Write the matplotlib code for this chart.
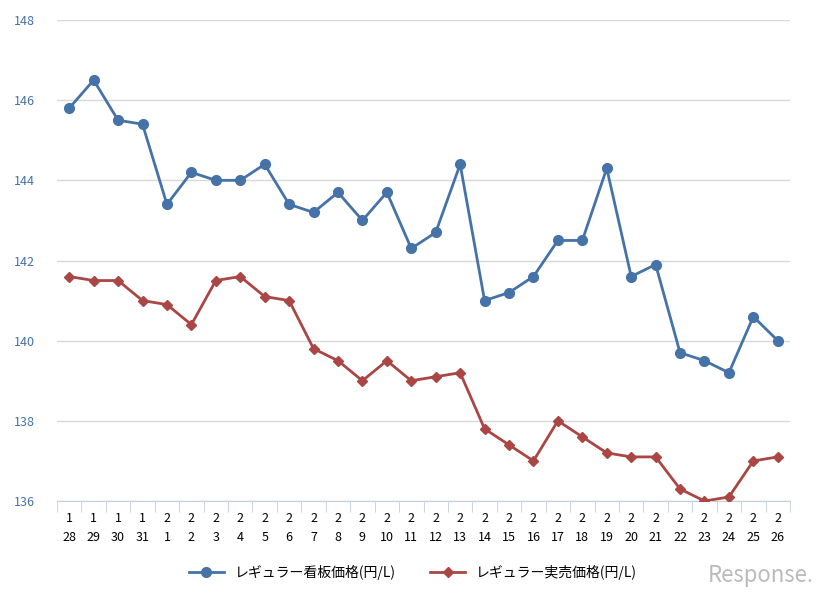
import matplotlib
matplotlib.use("Agg")
import matplotlib.pyplot as plt
import numpy as np

months = ["1"]*4 + ["2"]*26
days = ["28","29","30","31"] + [str(d) for d in range(1, 27)]
signboard = [145.8,146.5,145.5,145.4,143.4,144.2,144.0,144.0,144.4,143.4,143.2,143.7,143.0,143.7,142.3,142.7,144.4,141.0,141.2,141.6,142.5,142.5,144.3,141.6,141.9,139.7,139.5,139.2,140.6,140.0]
actual = [141.6,141.5,141.5,141.0,140.9,140.4,141.5,141.6,141.1,141.0,139.8,139.5,139.0,139.5,139.0,139.1,139.2,137.8,137.4,137.0,138.0,137.6,137.2,137.1,137.1,136.3,136.0,136.1,137.0,137.1]
yticks = [136,138,140,142,144,146,148]

plt.rcParams["font.family"] = ["Noto Sans CJK JP", "DejaVu Sans"]
fig = plt.figure(figsize=(8.26, 6.05), dpi=100)
ax = fig.add_axes([57/826, 1-501/605, (790-57)/826, (501-20)/605])
x = np.arange(len(days))
ax.plot(x, signboard, color="#4572A7", lw=2, marker="o", ms=7, label="レギュラー看板価格(円/L)", zorder=3)
ax.plot(x, actual, color="#AA4643", lw=2, marker="D", ms=5, label="レギュラー実売価格(円/L)", zorder=3)
ax.set_xlim(-0.5, len(days)-0.5)
ax.set_ylim(136, 148)
ax.set_yticks(yticks)
ax.set_yticklabels([str(t) for t in yticks], color="#4572A7", fontsize=9)
ax.yaxis.grid(True, color="#d8d8d8", lw=1)
ax.set_axisbelow(True)
for s in ["top", "right", "left"]:
    ax.spines[s].set_visible(False)
ax.spines["bottom"].set_color("#C0D0E0")
ax.tick_params(axis="y", length=0, pad=16)
ax.set_xticks(x)
ax.set_xticklabels([f"{m}\n{d}" for m, d in zip(months, days)], fontsize=9, linespacing=1.6)
ax.tick_params(axis="x", length=0, pad=8)
ax.set_xticks(np.arange(-0.5, len(days)), minor=True)
ax.tick_params(axis="x", which="minor", length=8, color="#C0D0E0")
fig.legend(loc="center", bbox_to_anchor=(0.5, 1-572/605), ncol=2, frameon=False, fontsize=10, handlelength=2.5, columnspacing=2.5)
fig.text(0.985, 0.03, "Response.", ha="right", va="bottom", fontsize=16, color="#bbbbbb", style="italic")
fig.savefig("out.png", dpi=100)
